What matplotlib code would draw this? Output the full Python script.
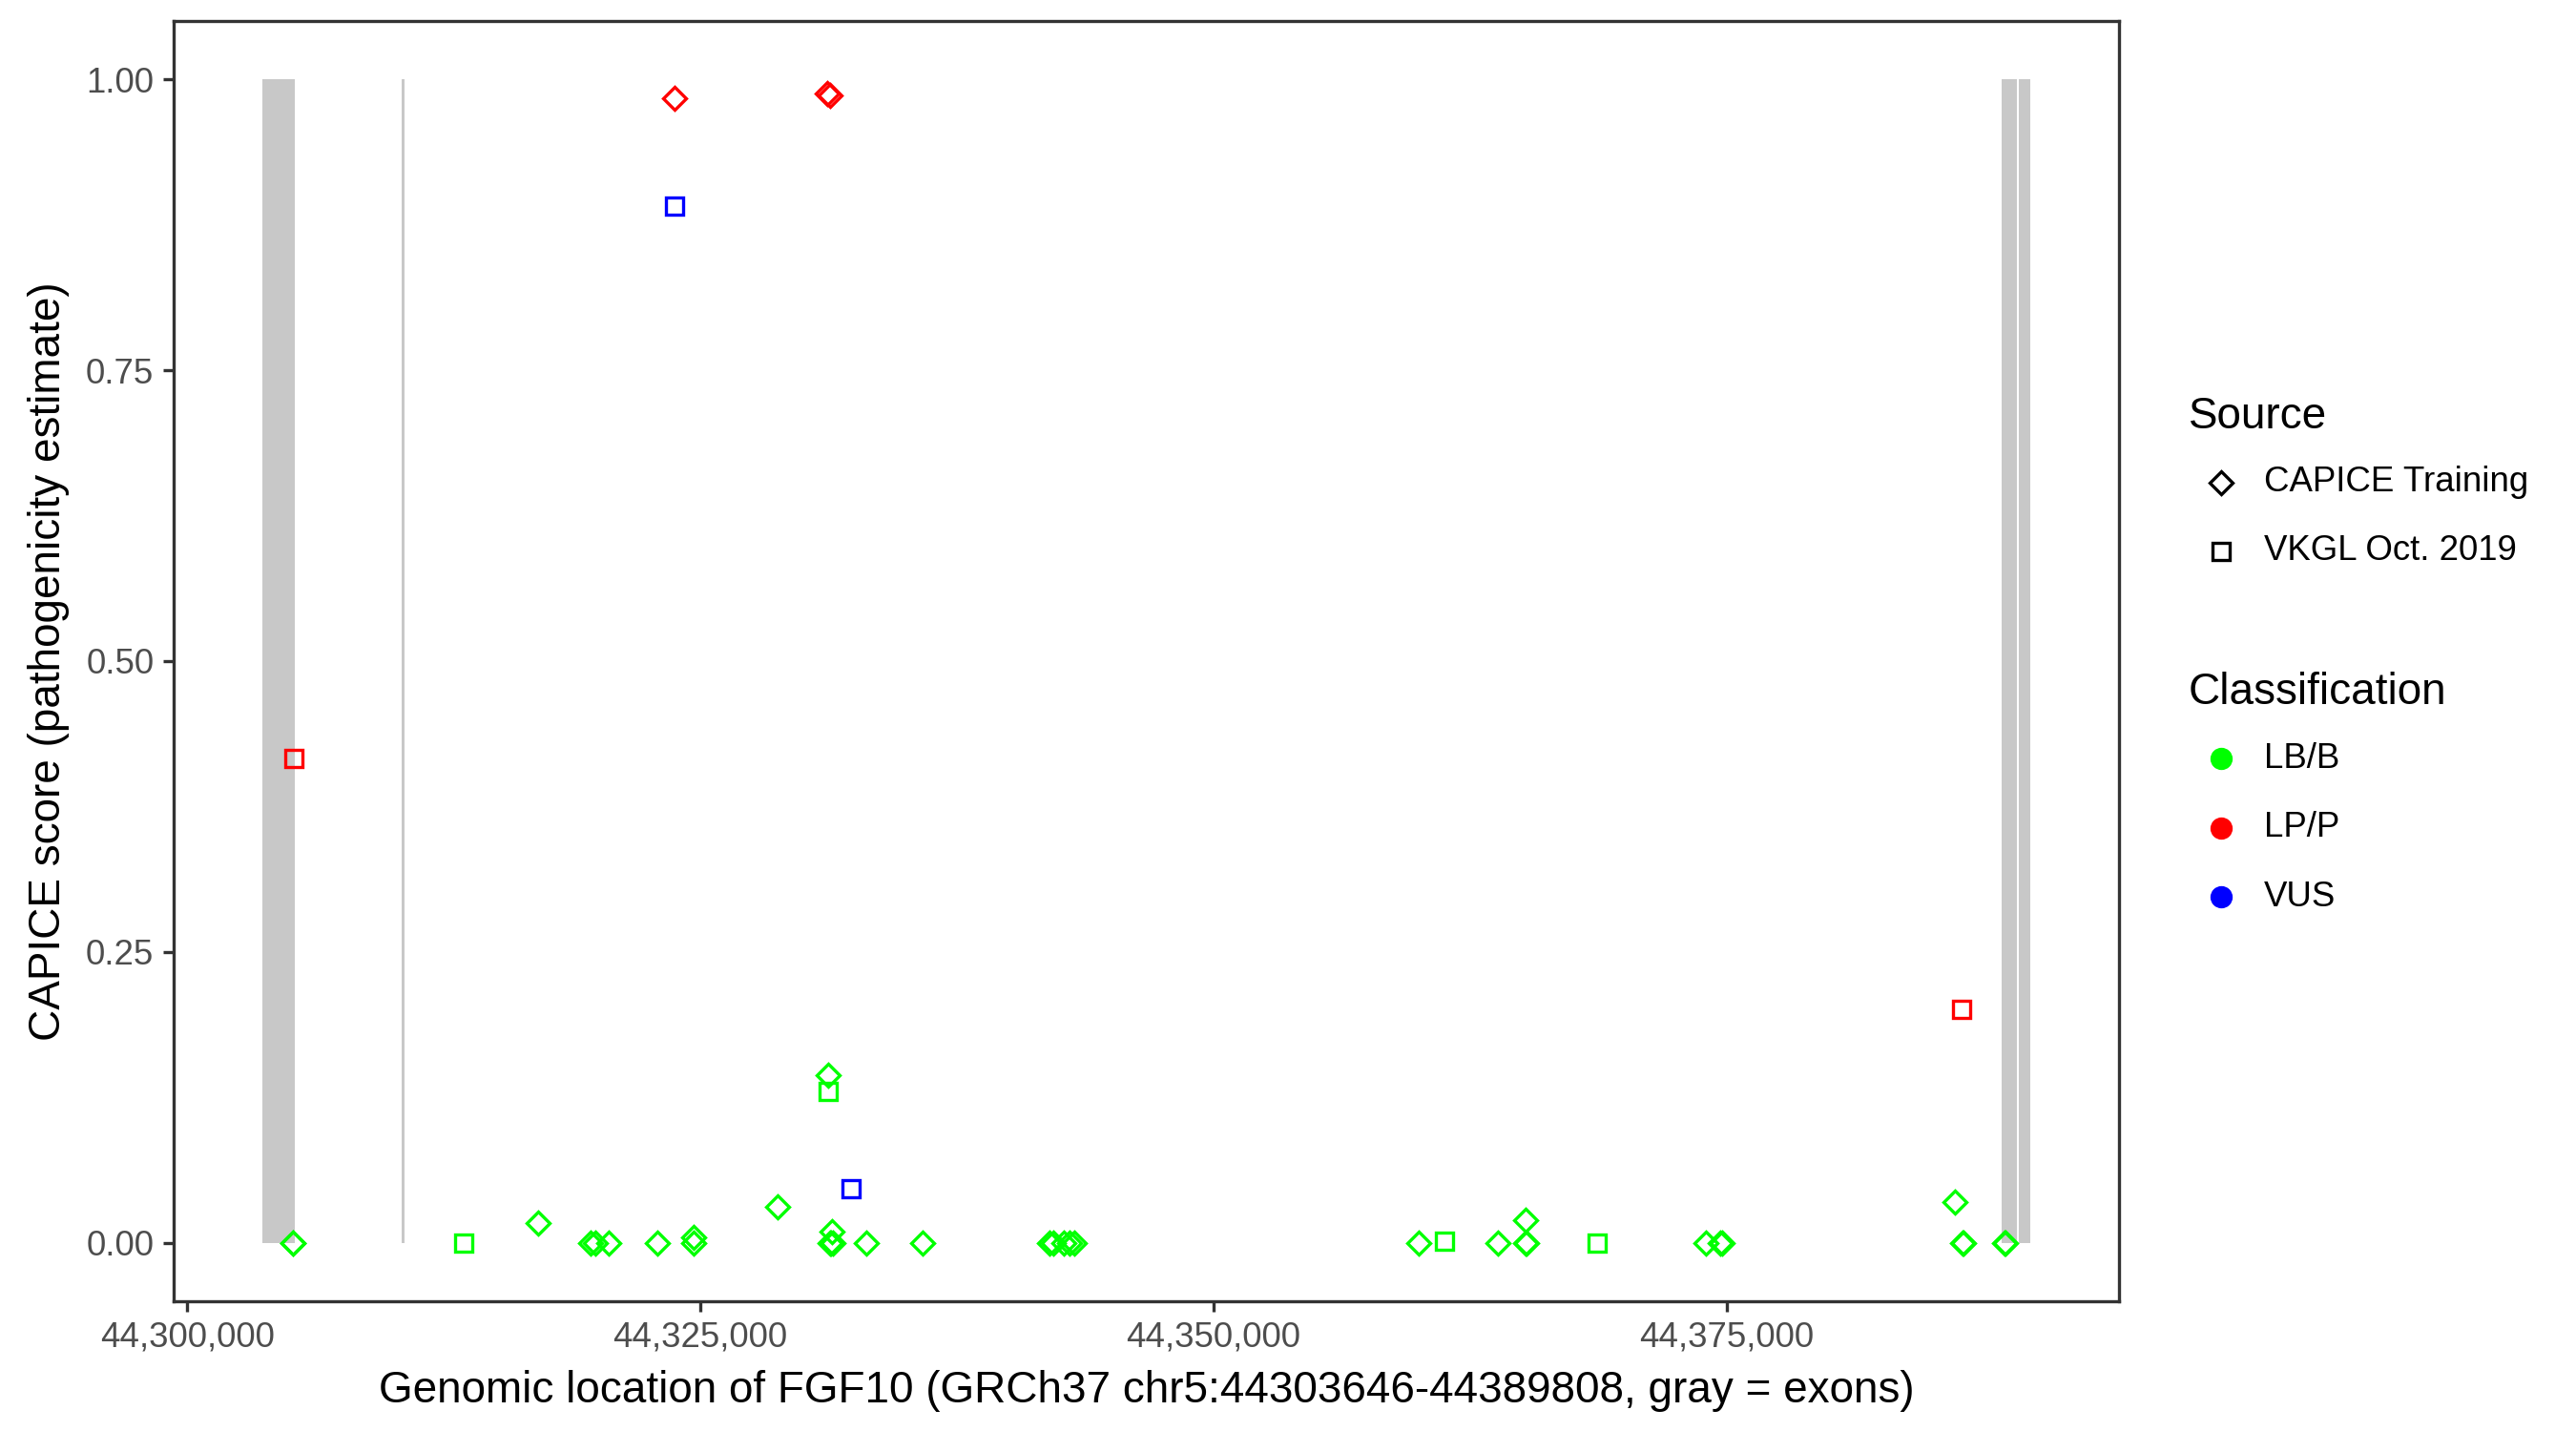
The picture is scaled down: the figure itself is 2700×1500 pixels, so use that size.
import numpy as np
import matplotlib.pyplot as plt
from matplotlib.lines import Line2D
from matplotlib.ticker import FuncFormatter

plt.rcParams['font.family'] = ['Liberation Sans', 'DejaVu Sans']

# gene region and exons (gray bars)
gene_start = 44303646
gene_end = 44389808
exon_starts = [44303646, 44310460, 44388420, 44389215]
exon_ends = [44305240, 44310575, 44389120, 44389808]

# CAPICE Training variants (diamonds)
capice_pos = [44305130, 44305160, 44317110, 44319640, 44319900, 44320520,
              44322890, 44324680, 44324690, 44328780, 44331230, 44331420,
              44331300, 44331380, 44331450, 44333100, 44335820, 44342000,
              44342200, 44342700, 44343000, 44343200, 44359990, 44363850,
              44365210, 44365210, 44365260, 44373990, 44374700, 44374800,
              44386100, 44386480, 44386530, 44388520, 44388600,
              44323750, 44331180, 44331320]
capice_score = [0.0, 0.0, 0.017, 0.0, 0.0, 0.0,
                0.0, 0.0, 0.005, 0.031, 0.144, 0.010,
                0.0, 0.0, 0.0, 0.0, 0.0, 0.0,
                0.0, 0.0, 0.0, 0.0, 0.0, 0.0,
                0.020, 0.0, 0.0, 0.0, 0.0, 0.0,
                0.035, 0.0, 0.0, 0.0, 0.0,
                0.984, 0.988, 0.986]
capice_class = ['LB/B'] * 35 + ['LP/P'] * 3

# VKGL Oct. 2019 variants (squares)
vkgl_pos = [44313460, 44331230, 44361270, 44368700,
            44305180, 44386460, 44323750, 44332320]
vkgl_score = [0.0, 0.130, 0.002, 0.0, 0.416, 0.201, 0.891, 0.047]
vkgl_class = ['LB/B', 'LB/B', 'LB/B', 'LB/B', 'LP/P', 'LP/P', 'VUS', 'VUS']

class_names = ['LB/B', 'LP/P', 'VUS']
class_colors = {'LB/B': '#00FF00', 'LP/P': '#FF0000', 'VUS': '#0000FF'}

fig = plt.figure(figsize=(9, 5), dpi=300)
ax = fig.add_axes([0.0674, 0.0907, 0.7552, 0.8946])

# exons
ax.bar(exon_starts, height=1, width=np.array(exon_ends) - np.array(exon_starts),
       bottom=0, align='edge', color='#C8C8C8', linewidth=0, zorder=1)

# points, one class at a time so colours layer like the original
for cls in class_names:
    for pos, score, klass, mk in [(capice_pos, capice_score, capice_class, 'D'),
                                  (vkgl_pos, vkgl_score, vkgl_class, 's')]:
        xs = [p for p, c in zip(pos, klass) if c == cls]
        ys = [s for s, c in zip(score, klass) if c == cls]
        if xs:
            ax.plot(xs, ys, linestyle='none', marker=mk,
                    markersize=4.1 if mk == 'D' else 4.3,
                    markerfacecolor='none', markeredgecolor=class_colors[cls],
                    markeredgewidth=0.8, zorder=3)

pad = 0.05 * (gene_end - gene_start)
ax.set_xlim(gene_start - pad, gene_end + pad)
ax.set_ylim(-0.05, 1.05)
ax.set_xticks([44300000, 44325000, 44350000, 44375000])
ax.xaxis.set_major_formatter(FuncFormatter(lambda v, p: f'{int(v):,}'))
ax.set_yticks([0, 0.25, 0.5, 0.75, 1.0])
ax.yaxis.set_major_formatter(FuncFormatter(lambda v, p: f'{v:.2f}'))

for s in ax.spines.values():
    s.set_color('#333333')
    s.set_linewidth(0.8)
ax.tick_params(axis='both', length=2.75, width=0.8, color='#333333',
               labelsize=8.8, labelcolor='#4D4D4D', pad=2.2)

ax.set_xlabel('Genomic location of FGF10 (GRCh37 chr5:44303646-44389808, gray = exons)',
              fontsize=11, labelpad=4)
ax.set_ylabel('CAPICE score (pathogenicity estimate)', fontsize=11, labelpad=4)

# legends, drawn by hand in figure coordinates
fig.text(0.8496, 0.7087, 'Source', fontsize=11, va='center', ha='left')
src_items = [('D', 'CAPICE Training', 0.6627), ('s', 'VKGL Oct. 2019', 0.6147)]
for mk, label, yy in src_items:
    fig.add_artist(Line2D([0.8622], [yy], transform=fig.transFigure,
                          marker=mk, markersize=4.1 if mk == 'D' else 4.3,
                          markerfacecolor='none', markeredgecolor='black',
                          markeredgewidth=0.8, linestyle='none'))
    fig.text(0.879, yy, label, fontsize=8.8, va='center', ha='left')

fig.text(0.8496, 0.5157, 'Classification', fontsize=11, va='center', ha='left')
for i, cls in enumerate(class_names):
    yy = 0.4697 - i * 0.0483
    fig.add_artist(Line2D([0.8622], [yy], transform=fig.transFigure,
                          marker='o', markersize=4.6, color=class_colors[cls],
                          linestyle='none'))
    fig.text(0.879, yy, cls, fontsize=8.8, va='center', ha='left')

fig.savefig('out.png', dpi=300)
